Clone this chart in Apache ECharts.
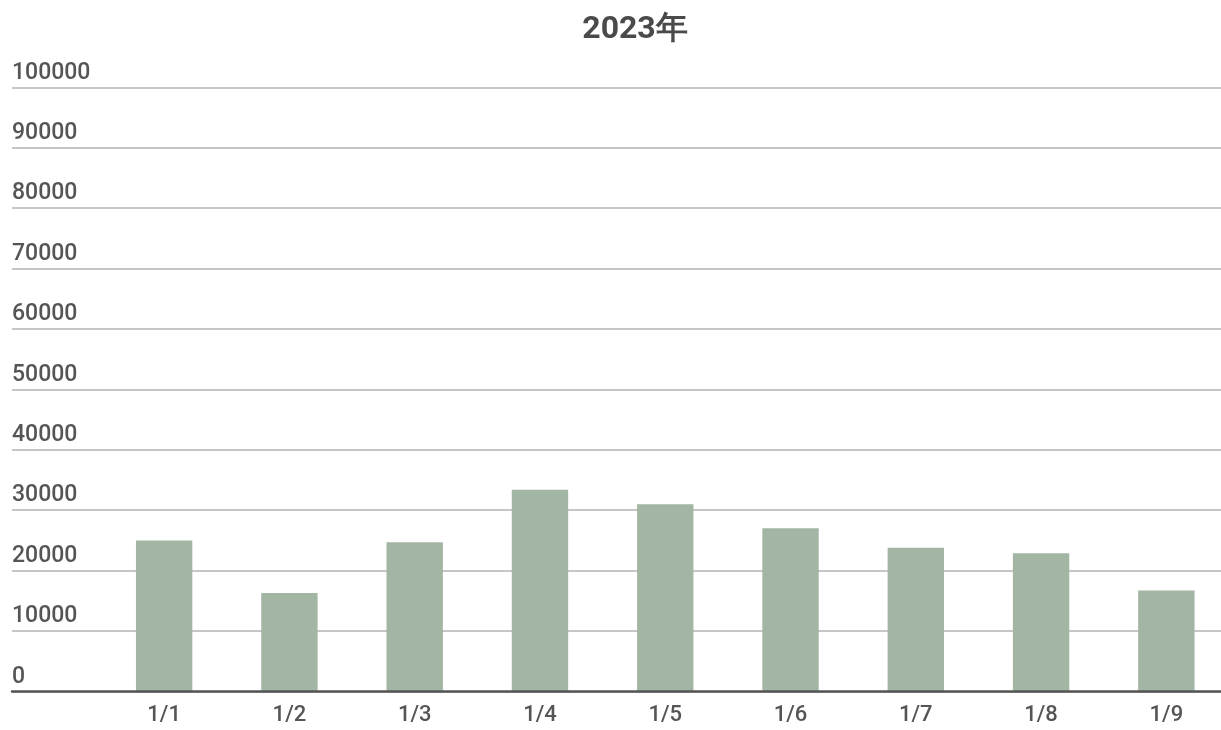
<!DOCTYPE html>
<html>
<head>
<meta charset="utf-8">
<script src="https://cdn.jsdelivr.net/npm/echarts@6/dist/echarts.min.js"></script>
<style>
html,body{margin:0;padding:0;background:#fff;overflow:hidden;}
#chart{width:1229px;height:730px;}
</style>
</head>
<body>
<div id="chart"></div>
<script>
const titleText = '2023年';
const categories = ['1/1','1/2','1/3','1/4','1/5','1/6','1/7','1/8','1/9'];
const values = [25000, 16300, 24700, 33400, 31000, 27000, 23800, 22900, 16700];
const yMin = 0, yMax = 100000, yInterval = 10000;

const chart = echarts.init(document.getElementById('chart'), null, {renderer:'canvas'});
const gTop = 87.3, gBottom = 38.5;
chart.setOption({
  animation:false,
  backgroundColor:'#ffffff',
  title:{
    text:titleText, left:630, top:9, textAlign:'center',
    textStyle:{fontFamily:'Roboto', fontWeight:'bold', fontSize:32, color:'#4a4a4a'}
  },
  grid:[
    {left:12, right:0, top:gTop, bottom:gBottom, containLabel:false},
    {left:101.5, right:0, top:gTop, bottom:gBottom, containLabel:false}
  ],
  xAxis:[
    {gridIndex:0, type:'category', data:[''], axisLine:{show:true, lineStyle:{color:'#555555', width:2.5}},
     axisTick:{show:false}, axisLabel:{show:false}, splitLine:{show:false}, z:5},
    {gridIndex:1, type:'category', data:categories, axisLine:{show:false}, axisTick:{show:false},
     axisLabel:{margin:13, fontFamily:'Roboto', fontWeight:500, fontSize:22, color:'#555555'}}
  ],
  yAxis:[
    {gridIndex:0, type:'value', min:yMin, max:yMax, interval:yInterval,
     axisLine:{show:false}, axisTick:{show:false},
     axisLabel:{inside:true, margin:0, verticalAlign:'bottom', padding:[0,0,3,0],
       fontFamily:'Roboto', fontWeight:500, fontSize:23, color:'#555555',
       formatter:function(v){return String(v);}},
     splitLine:{show:true, lineStyle:{color:'#b3b3b3', width:1.5}}},
    {gridIndex:1, type:'value', min:yMin, max:yMax, interval:yInterval, show:false,
     splitLine:{show:false}}
  ],
  series:[{
    type:'bar', xAxisIndex:1, yAxisIndex:1, data:values,
    barWidth:'45%',
    itemStyle:{color:'#a3b5a3'}
  }]
});
</script>
</body>
</html>
